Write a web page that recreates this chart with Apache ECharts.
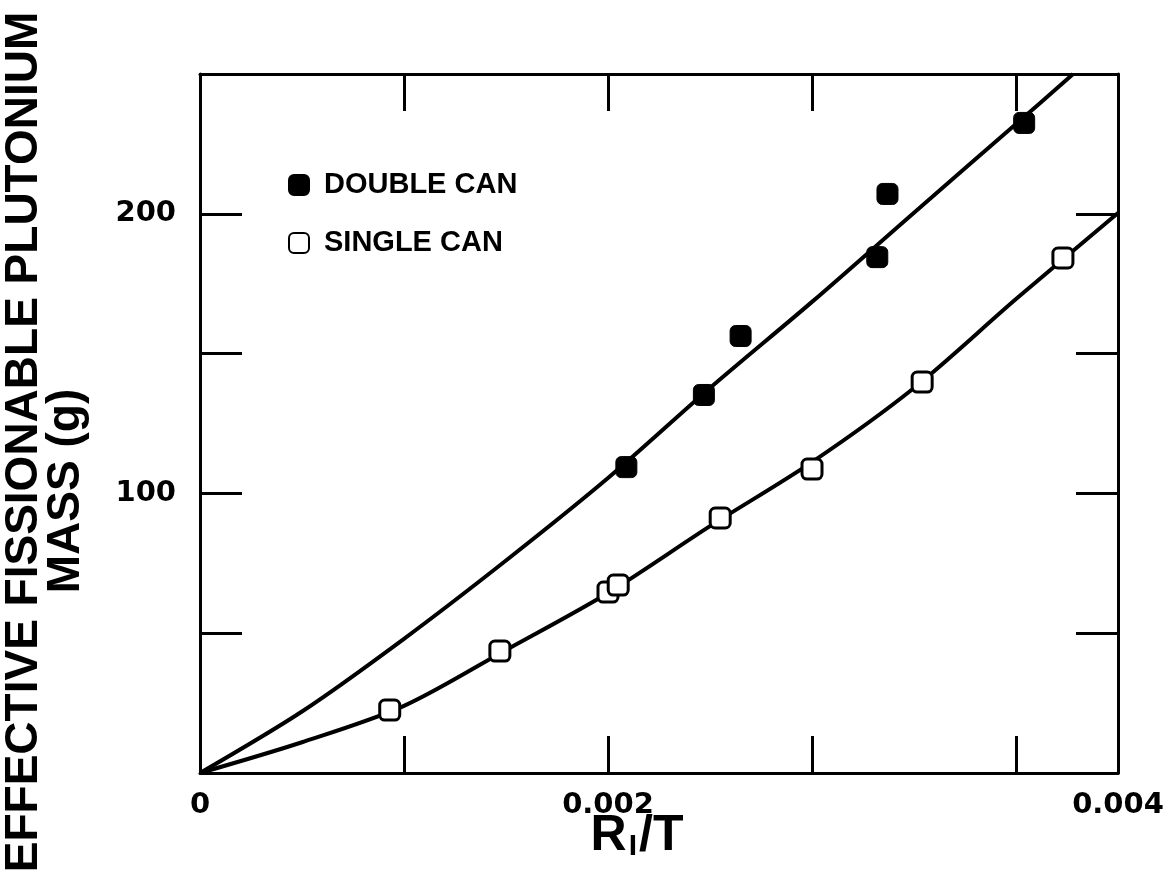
<!DOCTYPE html>
<html>
<head>
<meta charset="utf-8">
<script src="https://cdn.jsdelivr.net/npm/echarts@6/dist/echarts.min.js"></script>
<style>
html,body{margin:0;padding:0;background:#fff;}
#chart{width:1173px;height:881px;}
</style>
</head>
<body>
<div id="chart"></div>
<script>
// Measured points (R1/T, mass in g)
var doubleX = [0.00209, 0.00247, 0.00265, 0.00332, 0.00337, 0.00404];
var doubleY = [109.4, 135.2, 156.3, 184.5, 207.1, 232.5];
var singleX = [0.00093, 0.00147, 0.00200, 0.00205, 0.00255, 0.00300, 0.00354, 0.00423];
var singleY = [22.5, 43.6, 64.7, 67.2, 91.2, 108.7, 139.8, 184.2];

// Fitted curves
var doubleCurveX = [0, 0.0005, 0.001, 0.0015, 0.002, 0.0025, 0.003, 0.0035, 0.004, 0.00428];
var doubleCurveY = [0, 22, 48, 76, 105.5, 137.7, 168.5, 200.4, 232.1, 250];
var singleCurveX = [0, 0.0005, 0.001, 0.0015, 0.002, 0.0025, 0.003, 0.0035, 0.004, 0.0045];
var singleCurveY = [0, 11, 24, 44, 64.4, 88.3, 111.2, 137.7, 169.5, 200.3];

// Tick labels
var xLabelValues = [0, 0.002, 0.0045];
var xLabelTexts = ['0', '0.002', '0.004'];
var yLabelValues = [100, 200];
var yLabelTexts = ['100', '200'];

var seriesNames = ['DOUBLE CAN', 'SINGLE CAN'];

function zip(xs, ys) { return xs.map(function (x, i) { return [x, ys[i]]; }); }
function xFmt(v) {
  for (var i = 0; i < xLabelValues.length; i++) if (Math.abs(v - xLabelValues[i]) < 1e-9) return xLabelTexts[i];
  return '';
}
function yFmt(v) {
  for (var i = 0; i < yLabelValues.length; i++) if (Math.abs(v - yLabelValues[i]) < 1e-9) return yLabelTexts[i];
  return '';
}

var chart = echarts.init(document.getElementById('chart'), null, {renderer: 'canvas'});
var axisLine = {show: true, onZero: false, lineStyle: {color: '#000', width: 3}};
var tickX = {show: true, inside: true, length: 37, lineStyle: {color: '#000', width: 3}};
var tickY = {show: true, inside: true, length: 42, lineStyle: {color: '#000', width: 3}};
var labelFont = {fontFamily: 'DejaVu Sans', fontWeight: 'bold', fontSize: 29, color: '#000'};

var option = {
  backgroundColor: '#fff',
  animation: false,
  grid: {left: 200, right: 55, top: 74, bottom: 108, containLabel: false},
  legend: {
    show: true,
    data: seriesNames,
    orient: 'vertical',
    left: 288,
    top: 170,
    padding: 0,
    itemWidth: 20,
    itemHeight: 20,
    itemGap: 28,
    textStyle: {fontFamily: 'Liberation Sans', fontWeight: 'bold', fontSize: 29, color: '#000', lineHeight: 30, padding: [0, 0, 0, 10]}
  },
  xAxis: [{
    type: 'value', min: 0, max: 0.0045, interval: 0.001, position: 'bottom',
    axisLine: axisLine, axisTick: tickX, splitLine: {show: false},
    axisLabel: Object.assign({show: true, margin: 18, showMaxLabel: true, showMinLabel: true, hideOverlap: false, formatter: xFmt}, labelFont)
  }, {
    type: 'value', min: 0, max: 0.0045, interval: 0.001, position: 'top',
    axisLine: axisLine, axisTick: tickX, splitLine: {show: false}, axisLabel: {show: false}
  }],
  yAxis: [{
    type: 'value', min: 0, max: 250, interval: 50, position: 'left',
    axisLine: axisLine, axisTick: tickY, splitLine: {show: false},
    axisLabel: Object.assign({show: true, margin: 24, formatter: yFmt}, labelFont)
  }, {
    type: 'value', min: 0, max: 250, interval: 50, position: 'right',
    axisLine: axisLine, axisTick: tickY, splitLine: {show: false}, axisLabel: {show: false}
  }],
  graphic: [
    {type: 'text', x: 24, y: 442, rotation: Math.PI / 2,
     style: {text: 'EFFECTIVE FISSIONABLE PLUTONIUM', font: 'bold 46px "Liberation Sans"', fill: '#000', align: 'center', verticalAlign: 'middle'}},
    {type: 'text', x: 66, y: 491, rotation: Math.PI / 2,
     style: {text: 'MASS (g)', font: 'bold 46px "Liberation Sans"', fill: '#000', align: 'center', verticalAlign: 'middle'}},
    {type: 'text', x: 637, y: 836,
     style: {text: '{r|R}{s|I}{r|/T}', align: 'center', verticalAlign: 'middle', fill: '#000',
       rich: {r: {font: 'bold 50px "Liberation Sans"', fill: '#000', verticalAlign: 'middle'},
              s: {font: 'bold 30px "Liberation Sans"', fill: '#000', padding: [22, 2, 0, 2]}}}}
  ],
  series: [
    {name: 'double curve', type: 'line', data: zip(doubleCurveX, doubleCurveY), smooth: 0.3, symbol: 'none',
     lineStyle: {color: '#000', width: 4}, silent: true, z: 2},
    {name: 'single curve', type: 'line', data: zip(singleCurveX, singleCurveY), smooth: 0.3, symbol: 'none',
     lineStyle: {color: '#000', width: 4}, silent: true, z: 2},
    {name: seriesNames[0], type: 'scatter', data: zip(doubleX, doubleY), symbol: 'roundRect', symbolSize: 21,
     itemStyle: {color: '#000', borderColor: '#000', borderWidth: 1, opacity: 1}, z: 3},
    {name: seriesNames[1], type: 'scatter', data: zip(singleX, singleY), symbol: 'roundRect', symbolSize: 20,
     itemStyle: {color: '#fff', borderColor: '#000', borderWidth: 3, opacity: 1}, z: 3}
  ]
};
chart.setOption(option);
</script>
</body>
</html>
